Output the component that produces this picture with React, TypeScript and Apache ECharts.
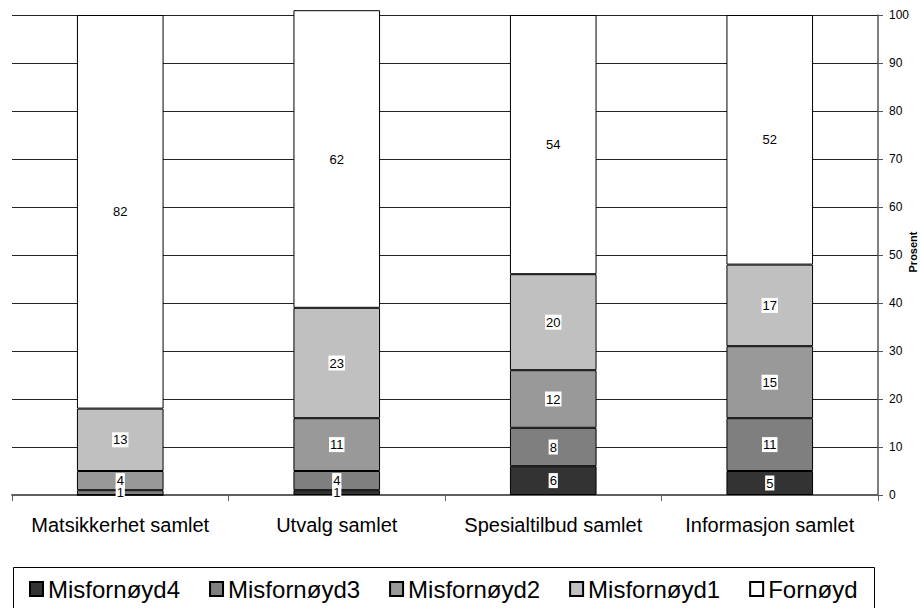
import React, { useEffect, useRef } from "react";
import * as echarts from "echarts";

const categories = [
  "Matsikkerhet samlet",
  "Utvalg samlet",
  "Spesialtilbud samlet",
  "Informasjon samlet",
];
const seriesNames = ["Misfornøyd4", "Misfornøyd3", "Misfornøyd2", "Misfornøyd1", "Fornøyd"];
const misfornoyd4 = [0, 1, 6, 5];
const misfornoyd3 = [1, 4, 8, 11];
const misfornoyd2 = [4, 11, 12, 15];
const misfornoyd1 = [13, 23, 20, 17];
const fornoyd = [82, 62, 54, 52];
const seriesColors = ["#333333", "#7f7f7f", "#999999", "#c0c0c0", "#ffffff"];
const yTicks = { min: 0, max: 100, interval: 10 };
const yAxisTitle = "Prosent";

const FONT = "'Liberation Sans', Arial, sans-serif";

export default function App() {
  const ref = useRef<HTMLDivElement>(null);

  useEffect(() => {
    if (!ref.current) return;
    const chart = echarts.init(ref.current, undefined, { renderer: "svg" });
    const values = [misfornoyd4, misfornoyd3, misfornoyd2, misfornoyd1, fornoyd];

    chart.setOption({
      animation: false,
      backgroundColor: "#ffffff",
      textStyle: { fontFamily: FONT },
      grid: {
        left: 12,
        right: 43,
        top: 15,
        bottom: 113,
        containLabel: false,
        outerBoundsMode: "none",
      },
      legend: {
        data: seriesNames,
        left: 24,
        top: 572,
        icon: "rect",
        itemWidth: 13,
        itemHeight: 14,
        itemGap: 29,
        textStyle: { fontSize: 24, color: "#000", fontFamily: FONT },
      },
      graphic: [
        {
          type: "rect",
          shape: { x: 13.5, y: 567.5, width: 861, height: 45 },
          style: { fill: "none", stroke: "#000", lineWidth: 1 },
          z: 100,
        },
        {
          // vertical title of the right-hand value axis
          type: "text",
          x: 913,
          y: 252,
          rotation: Math.PI / 2,
          style: {
            text: yAxisTitle,
            fontSize: 11,
            fontWeight: "bold",
            fontFamily: FONT,
            fill: "#000",
            textAlign: "center",
            textVerticalAlign: "middle",
          },
        },
      ],
      xAxis: {
        type: "category",
        data: categories,
        axisLine: { show: true, lineStyle: { color: "#606060", width: 2 } },
        axisTick: { show: true, length: 6, lineStyle: { color: "#606060" } },
        axisLabel: { interval: 0, fontSize: 20, color: "#000", margin: 20, fontFamily: FONT },
        splitLine: { show: false },
      },
      yAxis: {
        type: "value",
        position: "right",
        min: yTicks.min,
        max: yTicks.max,
        interval: yTicks.interval,
        axisLine: { show: true, lineStyle: { color: "#555", width: 1.5 } },
        axisTick: { show: true, length: 5, inside: false, lineStyle: { color: "#555" } },
        axisLabel: { fontSize: 12, color: "#000", margin: 11, fontFamily: FONT },
        splitLine: { show: true, lineStyle: { color: "#222", width: 1 } },
      },
      series: seriesNames.map((name, i) => ({
        name,
        type: "bar",
        stack: "total",
        barWidth: "40%",
        clip: false,
        data: values[i],
        itemStyle: { color: seriesColors[i], borderColor: "#000", borderWidth: 1 },
        label: {
          show: true,
          position: "inside",
          fontSize: 13,
          color: "#000",
          fontFamily: FONT,
          backgroundColor: "#fff",
          padding: [1, 1],
          formatter: (p: any) => (p.value === 0 ? "" : String(p.value)),
        },
      })),
    });

    return () => chart.dispose();
  }, []);

  return (
    <div
      ref={ref}
      style={{ position: "absolute", left: 0, top: 0, width: 921, height: 608 }}
    />
  );
}
